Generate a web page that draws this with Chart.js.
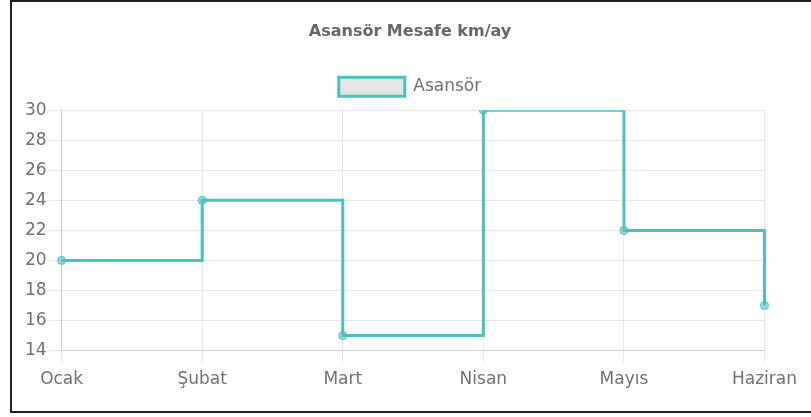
<!DOCTYPE html>
<html>
<head>
<meta charset="utf-8">
<script src="https://cdn.jsdelivr.net/npm/chart.js@4/dist/chart.umd.min.js"></script>
<style>
  html, body { margin: 0; padding: 0; background: #fff; }
  #wrap { position: relative; width: 811px; height: 417px; overflow: hidden; }
  #frame {
    position: absolute; left: 10px; top: 0; width: 900px; height: 409px;
    border-left: 2px solid #1e1e1e; border-top: 2px solid #1e1e1e; border-bottom: 2px solid #1e1e1e;
    pointer-events: none;
  }
  canvas { position: absolute; left: 0; top: 0; }
</style>
</head>
<body>
<div id="wrap">
  <canvas id="c" width="804" height="417"></canvas>
  <div id="frame"></div>
</div>
<script>
// Monthly elevator travel distance
const months = ['Ocak', 'Şubat', 'Mart', 'Nisan', 'Mayıs', 'Haziran'];
const distanceKm = [20, 24, 15, 30, 22, 17];
const seriesName = 'Asansör';
const chartTitle = 'Asansör Mesafe km/ay';
const yMin = 14, yMax = 30, yStep = 2;

const teal = 'rgb(75,192,192)';
const lightFill = 'rgba(0,0,0,0.1)';
const textGray = '#707070';
const fontFamily = "'DejaVu Sans', sans-serif";

// A little extra room between the legend and the plot area
const legendGap = {
  id: 'legendGap',
  afterInit(chart) {
    const fit = chart.legend.fit;
    chart.legend.fit = function () {
      fit.call(this);
      this.height += 4;
    };
  }
};

new Chart(document.getElementById('c'), {
  type: 'line',
  data: {
    labels: months,
    datasets: [{
      label: seriesName,
      data: distanceKm,
      stepped: true,
      fill: false,
      borderColor: teal,
      backgroundColor: lightFill,
      borderWidth: 3,
      pointRadius: 4,
      pointBorderWidth: 1,
      pointBorderColor: teal,
      pointBackgroundColor: 'rgba(75,192,192,0.55)'
    }]
  },
  plugins: [legendGap],
  options: {
    responsive: false,
    animation: false,
    layout: { padding: { left: 23, right: 7, top: 21, bottom: 20 } },
    plugins: {
      title: {
        display: true,
        text: chartTitle,
        color: '#666',
        font: { family: fontFamily, size: 16, weight: 'bold' },
        padding: { top: 1, bottom: 19 }
      },
      legend: {
        labels: {
          color: textGray,
          boxWidth: 66,
          boxHeight: 19,
          padding: 17,
          font: { family: fontFamily, size: 17 },
          generateLabels: (chart) => {
            const ds = chart.data.datasets[0];
            return [{
              text: ds.label, fillStyle: lightFill, strokeStyle: teal, fontColor: textGray,
              lineWidth: 3, hidden: false, datasetIndex: 0
            }];
          }
        }
      },
      tooltip: { enabled: false }
    },
    scales: {
      x: {
        grid: { color: 'rgba(0,0,0,0.09)', tickLength: 12 },
        border: { color: 'rgba(0,0,0,0.12)' },
        ticks: { color: textGray, font: { family: fontFamily, size: 17 }, padding: 7, maxRotation: 0 }
      },
      y: {
        min: yMin, max: yMax,
        grid: { color: 'rgba(0,0,0,0.09)', tickLength: 13 },
        border: { color: 'rgba(0,0,0,0.12)' },
        ticks: { stepSize: yStep, color: textGray, font: { family: fontFamily, size: 17 }, padding: 2 }
      }
    }
  }
});
</script>
</body>
</html>
